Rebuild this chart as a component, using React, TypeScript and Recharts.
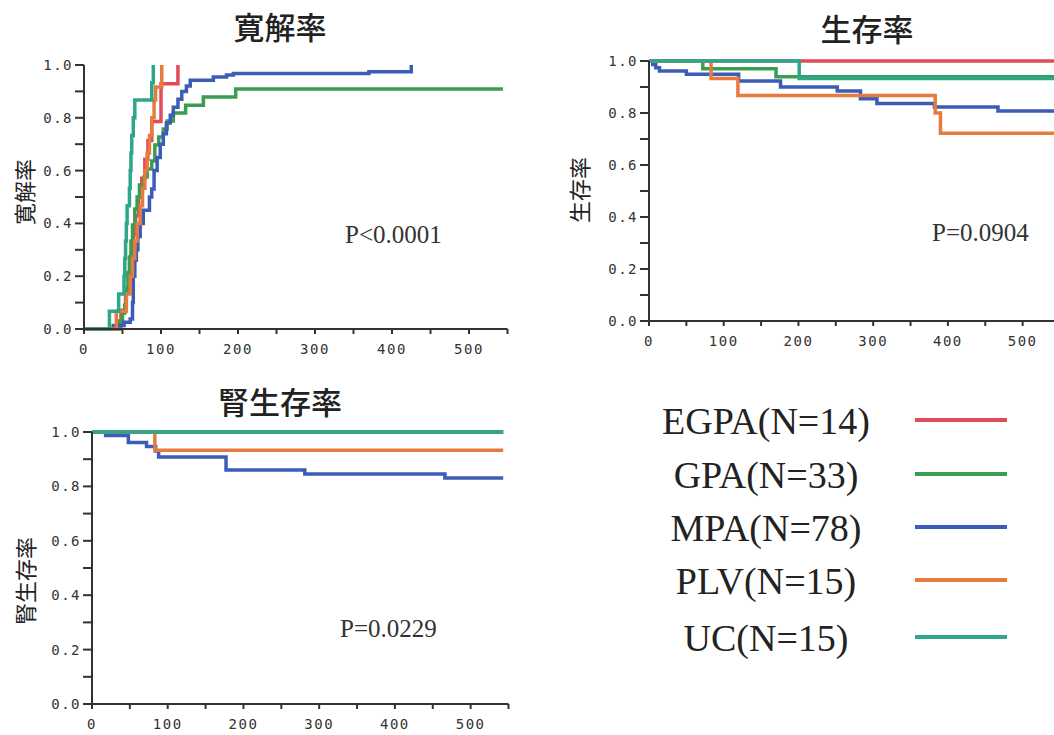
import { Line, LineChart, XAxis, YAxis } from "recharts";

type Pt = [number, number];

// groups, sizes and colours shared by all three panels
const groups = ["EGPA", "GPA", "MPA", "PLV", "UC"];
const groupN = [14, 33, 78, 15, 15];
const groupColors = ["#e14b5b", "#3a9d4f", "#3d5cb8", "#e57b3e", "#2ea68a"];

const xTicks = [0, 50, 100, 150, 200, 250, 300, 350, 400, 450, 500, 550];
const yTicks = [0, 0.1, 0.2, 0.3, 0.4, 0.5, 0.6, 0.7, 0.8, 0.9, 1.0];

// 寛解率 (cumulative remission)
const remissionEGPA: Pt[] = [
  [0, 0], [48, 0.071], [54, 0.143], [58, 0.214], [61, 0.286], [64, 0.357], [67, 0.429],
  [71, 0.5], [75, 0.571], [79, 0.643], [83, 0.714], [88, 0.786], [100, 0.929], [122, 1.0],
];
const remissionGPA: Pt[] = [
  [0, 0], [45, 0.03], [50, 0.061], [53, 0.091], [55, 0.152], [57, 0.212], [59, 0.273],
  [61, 0.333], [63, 0.394], [66, 0.455], [69, 0.5], [72, 0.545], [78, 0.576], [82, 0.606],
  [88, 0.636], [92, 0.697], [97, 0.727], [103, 0.758], [108, 0.788], [116, 0.818],
  [132, 0.848], [155, 0.879], [197, 0.909], [544, 0.909],
];
const remissionMPA: Pt[] = [
  [0, 0], [38, 0.013], [52, 0.026], [60, 0.038], [63, 0.1], [64, 0.2], [66, 0.26], [68, 0.3],
  [70, 0.35], [73, 0.4], [77, 0.45], [85, 0.5], [88, 0.53], [91, 0.6], [95, 0.65], [99, 0.7],
  [103, 0.74], [107, 0.78], [112, 0.81], [116, 0.84], [122, 0.87], [127, 0.9], [133, 0.92],
  [138, 0.942], [168, 0.955], [185, 0.962], [194, 0.968], [370, 0.974], [425, 1.0],
];
const remissionPLV: Pt[] = [
  [0, 0], [42, 0.067], [55, 0.133], [60, 0.2], [63, 0.267], [66, 0.333], [69, 0.4],
  [73, 0.467], [76, 0.533], [79, 0.6], [82, 0.667], [85, 0.733], [88, 0.8], [91, 0.867],
  [93, 0.917], [101, 1.0],
];
const remissionUC: Pt[] = [
  [0, 0], [33, 0.067], [45, 0.133], [52, 0.2], [53, 0.267], [54, 0.333], [55, 0.4],
  [56, 0.467], [59, 0.533], [60, 0.6], [61, 0.667], [62, 0.733], [64, 0.8], [66, 0.867],
  [88, 0.933], [90, 1.0],
];

// 生存率 (overall survival)
const survivalEGPA: Pt[] = [[0, 1], [550, 1]];
const survivalGPA: Pt[] = [[0, 1], [72, 0.97], [170, 0.939], [550, 0.939]];
const survivalMPA: Pt[] = [
  [0, 1], [5, 0.987], [9, 0.974], [14, 0.962], [50, 0.949], [120, 0.923], [176, 0.9],
  [252, 0.885], [283, 0.855], [305, 0.837], [382, 0.823], [467, 0.808], [550, 0.808],
];
const survivalPLV: Pt[] = [
  [0, 1], [83, 0.933], [119, 0.867], [383, 0.8], [390, 0.722], [550, 0.722],
];
const survivalUC: Pt[] = [[0, 1], [201, 0.933], [550, 0.933]];

// 腎生存率 (renal survival)
const renalEGPA: Pt[] = [[0, 1], [543, 1]];
const renalGPA: Pt[] = [[0, 1], [543, 1]];
const renalMPA: Pt[] = [
  [0, 1], [18, 0.987], [48, 0.961], [72, 0.947], [84, 0.93], [88, 0.908], [177, 0.86],
  [281, 0.846], [466, 0.831], [543, 0.831],
];
const renalPLV: Pt[] = [[0, 1], [83, 0.933], [543, 0.933]];
const renalUC: Pt[] = [[0, 1], [543, 1]];

const remissionSeries = [remissionEGPA, remissionGPA, remissionMPA, remissionPLV, remissionUC];
const survivalSeries = [survivalEGPA, survivalGPA, survivalMPA, survivalPLV, survivalUC];
const renalSeries = [renalEGPA, renalGPA, renalMPA, renalPLV, renalUC];

const Y_W = 60;
const M_TOP = 10;
const M_RIGHT = 10;
const X_H = 30;

const tickStyle = { fontFamily: "DejaVu Sans Mono", fontSize: 14, fill: "#333", letterSpacing: 1.5 };

function KMPanel({
  plotLeft,
  plotTop,
  plotW,
  plotH,
  series,
}: {
  plotLeft: number;
  plotTop: number;
  plotW: number;
  plotH: number;
  series: Pt[][];
}) {
  return (
    <div style={{ position: "absolute", left: plotLeft - Y_W, top: plotTop - M_TOP }}>
      <LineChart
        width={Y_W + plotW + M_RIGHT}
        height={M_TOP + plotH + X_H}
        margin={{ top: M_TOP, right: M_RIGHT, bottom: 0, left: 0 }}
      >
        <XAxis
          type="number"
          dataKey="t"
          domain={[0, 550]}
          ticks={xTicks}
          interval={0}
          allowDataOverflow
          height={X_H}
          tickSize={5}
          tickMargin={10}
          stroke="#333"
          strokeWidth={2}
          tick={tickStyle}
          tickFormatter={(v: number) => (v % 100 === 0 ? String(v) : "")}
        />
        <YAxis
          type="number"
          domain={[0, 1]}
          ticks={yTicks}
          interval={0}
          width={Y_W}
          tickSize={9}
          tickMargin={2}
          stroke="#333"
          strokeWidth={2}
          tick={tickStyle}
          tickFormatter={(v: number) => (Math.round(v * 10) % 2 === 0 ? v.toFixed(1) : "")}
        />
        {series.map((pts, i) => (
          <Line
            key={groups[i]}
            data={pts.map(([t, v]) => ({ t, v }))}
            dataKey="v"
            type="stepAfter"
            stroke={groupColors[i]}
            strokeWidth={3.5}
            dot={false}
            activeDot={false}
            isAnimationActive={false}
          />
        ))}
      </LineChart>
    </div>
  );
}

const titleStyle: React.CSSProperties = {
  position: "absolute",
  transform: "translate(-50%, -50%)",
  fontFamily: "'Noto Sans CJK JP', sans-serif",
  fontSize: 31,
  fontWeight: 500,
  color: "#222",
  whiteSpace: "nowrap",
  lineHeight: 1,
};

const yLabelStyle: React.CSSProperties = {
  position: "absolute",
  transform: "translate(-50%, -50%) rotate(-90deg)",
  fontFamily: "'Noto Sans CJK JP', sans-serif",
  fontSize: 22,
  color: "#222",
  whiteSpace: "nowrap",
  lineHeight: 1,
};

const pStyle: React.CSSProperties = {
  position: "absolute",
  fontFamily: "'Liberation Serif', serif",
  fontSize: 25,
  color: "#333",
  whiteSpace: "nowrap",
  lineHeight: 1,
};

const legendRows = [421, 475, 528, 581, 638];

export default function App() {
  return (
    <div
      style={{
        position: "absolute",
        left: 0,
        top: 0,
        width: 1054,
        height: 735,
        overflow: "hidden",
        background: "#fff",
      }}
    >
      <KMPanel plotLeft={84} plotTop={65} plotW={423.5} plotH={264} series={remissionSeries} />
      <KMPanel plotLeft={649} plotTop={61} plotW={411} plotH={260} series={survivalSeries} />
      <KMPanel plotLeft={92} plotTop={432} plotW={416.5} plotH={272} series={renalSeries} />

      <div style={{ ...titleStyle, left: 280, top: 25 }}>寛解率</div>
      <div style={{ ...titleStyle, left: 867, top: 27 }}>生存率</div>
      <div style={{ ...titleStyle, left: 280, top: 400 }}>腎生存率</div>

      <div style={{ ...yLabelStyle, left: 23, top: 192 }}>寛解率</div>
      <div style={{ ...yLabelStyle, left: 578, top: 190 }}>生存率</div>
      <div style={{ ...yLabelStyle, left: 24, top: 581 }}>腎生存率</div>

      <div style={{ ...pStyle, left: 345, top: 222 }}>P&lt;0.0001</div>
      <div style={{ ...pStyle, left: 932, top: 220 }}>P=0.0904</div>
      <div style={{ ...pStyle, left: 340, top: 616 }}>P=0.0229</div>

      {groups.map((g, i) => (
        <div key={g}>
          <div
            style={{
              position: "absolute",
              left: 766,
              top: legendRows[i],
              transform: "translate(-50%, -50%)",
              fontFamily: "'Liberation Serif', serif",
              fontSize: 38,
              color: "#222",
              whiteSpace: "nowrap",
              lineHeight: 1,
            }}
          >
            {`${g}(N=${groupN[i]})`}
          </div>
          <div
            style={{
              position: "absolute",
              left: 915,
              top: legendRows[i] - 3,
              width: 92,
              height: 4,
              background: groupColors[i],
            }}
          />
        </div>
      ))}
    </div>
  );
}
